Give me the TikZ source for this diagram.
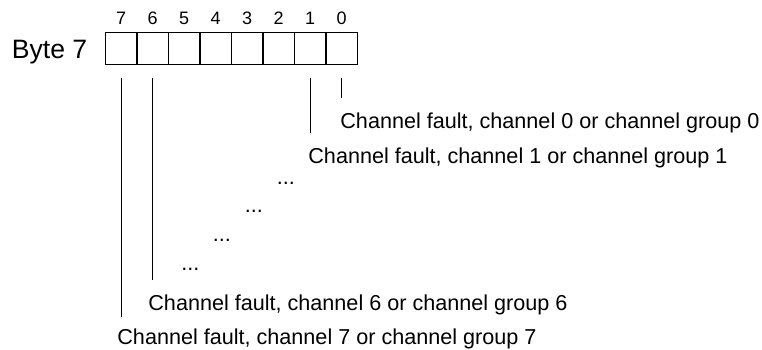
\documentclass[tikz,border=0pt]{standalone}
\usepackage{fontspec}
\setmainfont{Liberation Sans}
\usepackage{tikz}
\usetikzlibrary{positioning}

\begin{document}
\begin{tikzpicture}[
				x=0.5pt, y=-0.5pt,
				bit style/.style={
					draw,
					line width=0.65pt,
					minimum width=15.75pt,
					minimum height=15.8pt,
					inner sep=0pt
				},
				num style/.style={
					anchor=base,
					inner sep=0pt,
					font=\fontsize{9}{11}\selectfont
				},
				text style/.style={
					anchor=base west,
					inner sep=0pt,
					font=\fontsize{10.8}{13}\selectfont
				},
				wire/.style={line width=0.65pt}
				]
				
				\useasboundingbox (0,0) rectangle (762,349);
				
				\node[anchor=base west, inner sep=0pt, font=\fontsize{13.3}{16}\selectfont] (byte) at (11.5,58.3) {Byte 7};
				
				% the eight bits
				\node[bit style] (b7) at (121.25,48.5) {};
				\node[bit style] (b6) at (152.75,48.5) {};
				\node[bit style] (b5) at (184.25,48.5) {};
				\node[bit style] (b4) at (215.75,48.5) {};
				\node[bit style] (b3) at (247.25,48.5) {};
				\node[bit style] (b2) at (278.75,48.5) {};
				\node[bit style] (b1) at (310.25,48.5) {};
				\node[bit style] (b0) at (341.75,48.5) {};
				
				\node[num style] (n7) at ([yshift=3.85pt]b7.north) {7};
				\node[num style] (n6) at ([yshift=3.85pt]b6.north) {6};
				\node[num style] (n5) at ([yshift=3.85pt]b5.north) {5};
				\node[num style] (n4) at ([yshift=3.85pt]b4.north) {4};
				\node[num style] (n3) at ([yshift=3.85pt]b3.north) {3};
				\node[num style] (n2) at ([yshift=3.85pt]b2.north) {2};
				\node[num style] (n1) at ([yshift=3.85pt]b1.north) {1};
				\node[num style] (n0) at ([yshift=3.85pt]b0.north) {0};
				
				% meanings
				\node[text style] (ch0) at (340,128.5) {Channel fault, channel 0 or channel group 0};
				\node[text style] (ch1) at (308,163.5) {Channel fault, channel 1 or channel group 1};
				\node[text style] (dots1) at (276.5,184) {...};
				\node[text style] (dots2) at (244.5,212.5) {...};
				\node[text style] (dots3) at (212.5,241.5) {...};
				\node[text style] (dots4) at (181,270) {...};
				\node[text style] (ch6) at (148,310.5) {Channel fault, channel 6 or channel group 6};
				\node[text style] (ch7) at (117,344.5) {Channel fault, channel 7 or channel group 7};
				
				\coordinate (e0) at (341.75,98);
				\coordinate (e1) at (310.25,133);
				\coordinate (e6) at (152.75,280);
				\coordinate (e7) at (121.25,317);
				
				\draw[wire] ([yshift=-6.35pt]b0.south) -- (e0);
				\draw[wire] ([yshift=-6.35pt]b1.south) -- (e1);
				\draw[wire] ([yshift=-6.35pt]b6.south) -- (e6);
				\draw[wire] ([yshift=-6.35pt]b7.south) -- (e7);
				
			\end{tikzpicture}
\end{document}
